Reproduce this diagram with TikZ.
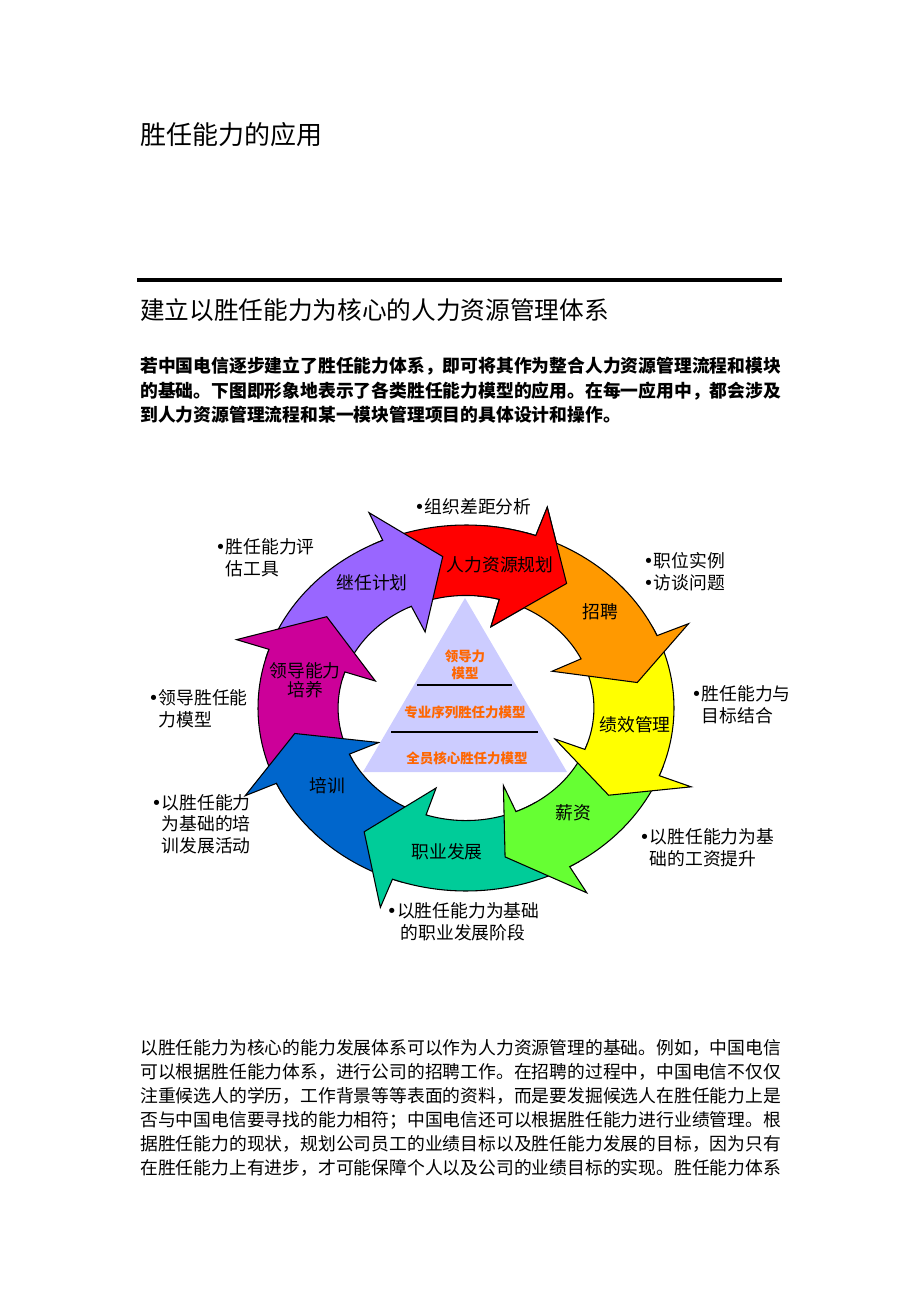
\documentclass[tikz,border=0pt]{standalone}
\usepackage{fontspec}
\setmainfont{Noto Sans CJK SC}
\newfontfamily\dotfont{DejaVu Sans}
\newcommand{\dotmark}{{\dotfont •}}
\newcommand{\dotgap}{\hphantom{\dotmark}}
\definecolor{arrred}{RGB}{255,0,0}
\definecolor{arrorange}{RGB}{255,153,0}
\definecolor{arryellow}{RGB}{255,255,0}
\definecolor{arrgreen}{RGB}{102,255,51}
\definecolor{arrteal}{RGB}{0,204,153}
\definecolor{arrblue}{RGB}{0,102,204}
\definecolor{arrmagenta}{RGB}{204,0,153}
\definecolor{arrpurple}{RGB}{153,102,255}
\definecolor{pyrfill}{RGB}{204,204,255}
\definecolor{pyrorange}{RGB}{255,102,0}
\begin{document}
\begin{tikzpicture}[x=0.75pt,y=-0.75pt,
    para/.style={anchor=west,inner sep=0pt,font=\fontsize{13.35}{18}\selectfont},
    bpara/.style={anchor=west,inner sep=0pt,font=\fontsize{13.35}{18}\selectfont\bfseries},
    lbl/.style={anchor=west,inner sep=0pt,align=left,font=\fontsize{13.35}{16.2}\selectfont},
    ringtxt/.style={inner sep=0pt,align=center,font=\fontsize{13.35}{14.5}\selectfont},
    pyrtxt/.style={inner sep=0pt,align=center,text=pyrorange,font=\fontsize{10.1}{12.5}\selectfont\bfseries}]
    \useasboundingbox (0,0) rectangle (920,1302);

    % page head
    \node[para,font=\fontsize{19.5}{22}\selectfont] (title) at (140,135) {胜任能力的应用};
    \draw[line width=3pt] (137,280) -- (782,280);
    \node[para,font=\fontsize{18.5}{22}\selectfont] (heading) at (140,310) {建立以胜任能力为核心的人力资源管理体系};
    \node[bpara] (intro1) at (140,366) {若中国电信逐步建立了胜任能力体系，即可将其作为整合人力资源管理流程和模块};
    \node[bpara] (intro2) at (140,391) {的基础。下图即形象地表示了各类胜任能力模型的应用。在每一应用中，都会涉及};
    \node[bpara] (intro3) at (140,415) {到人力资源管理流程和某一模块管理项目的具体设计和操作。};

    % ring of arrows
    \begin{scope}[shift={(466,708)},x=156pt,y=137.25pt,line width=0.8pt]
        \foreach \c/\t/\bo/\p/\bi in {arrred/116.6/70.4/54.6/74.9, arrpurple/164.3/113.6/97.7/115.3,
            arrmagenta/207.3/161.3/143.3/161.3, arrblue/252.3/204.3/189.6/204.2,
            arrteal/302.9/249.3/234.1/251.8, arrgreen/341.3/299.9/283/293,
            arryellow/26.3/-21.7/-34.8/-21.6, arrorange/73.4/23.3/9.6/25.9}
            \filldraw[fill=\c] plot[domain=\t:\bo,samples=30] (\x:1) -- (\bo:1.165) -- (\p:0.835)
                -- (\bi:0.46) -- plot[domain=\bi:\t,samples=30] (\x:0.615) -- cycle;
        % red head again, over the orange tail
        \begin{scope}
            \clip (0,0) -- (85:2) -- (40:2) -- cycle;
            \filldraw[fill=arrred] plot[domain=116.6:70.4,samples=30] (\x:1) -- (70.4:1.165) -- (54.6:0.835)
                -- (74.9:0.46) -- plot[domain=74.9:116.6,samples=30] (\x:0.615) -- cycle;
        \end{scope}
    \end{scope}

    \node[ringtxt] (plan) at (500,565) {人力资源规划};
    \node[ringtxt] (recruit) at (600,612) {招聘};
    \node[ringtxt] (perf) at (635,725) {绩效管理};
    \node[ringtxt] (salary) at (573,813) {薪资};
    \node[ringtxt] (career) at (447,852) {职业发展};
    \node[ringtxt] (train) at (327,786) {培训};
    \node[ringtxt] (leader) at (305,680) {领导能力\\培养};
    \node[ringtxt] (succ) at (372,583) {继任计划};

    % pyramid of models
    \fill[pyrfill] (465,598) -- (567,772) -- (363,772) -- cycle;
    \draw[line width=1.2pt] (417,685) -- (512,685);
    \draw[line width=1.2pt] (391,732) -- (538,732);
    \node[pyrtxt] (mlead) at (465,665) {领导力\\模型};
    \node[pyrtxt] (mpro) at (465,712) {专业序列胜任力模型};
    \node[pyrtxt] (mcore) at (467,758) {全员核心胜任力模型};

    % notes round the ring
    \node[lbl] (ngap) at (414,507) {\dotmark 组织差距分析};
    \node[lbl] (nassess) at (215,557.5) {\dotmark 胜任能力评\\\dotgap 估工具};
    \node[lbl] (njob) at (643,571.5) {\dotmark 职位实例\\\dotmark 访谈问题};
    \node[lbl] (nlead) at (148,709) {\dotmark 领导胜任能\\\dotgap 力模型};
    \node[lbl] (ntrain) at (151,824) {\dotmark 以胜任能力\\\dotgap 为基础的培\\\dotgap 训发展活动};
    \node[lbl] (ngoal) at (691,705) {\dotmark 胜任能力与\\\dotgap 目标结合};
    \node[lbl] (npay) at (639,848) {\dotmark 以胜任能力为基\\\dotgap 础的工资提升};
    \node[lbl,anchor=center,align=center] (ncareer) at (463,922) {\dotmark 以胜任能力为基础\\的职业发展阶段};

    % closing text
    \node[para] (body1) at (140,1048) {以胜任能力为核心的能力发展体系可以作为人力资源管理的基础。例如，中国电信};
    \node[para] (body2) at (140,1072) {可以根据胜任能力体系，进行公司的招聘工作。在招聘的过程中，中国电信不仅仅};
    \node[para] (body3) at (140,1096) {注重候选人的学历，工作背景等等表面的资料，而是要发掘候选人在胜任能力上是};
    \node[para] (body4) at (140,1120) {否与中国电信要寻找的能力相符；中国电信还可以根据胜任能力进行业绩管理。根};
    \node[para] (body5) at (140,1144) {据胜任能力的现状，规划公司员工的业绩目标以及胜任能力发展的目标，因为只有};
    \node[para] (body6) at (140,1168) {在胜任能力上有进步，才可能保障个人以及公司的业绩目标的实现。胜任能力体系};
\end{tikzpicture}
\end{document}
